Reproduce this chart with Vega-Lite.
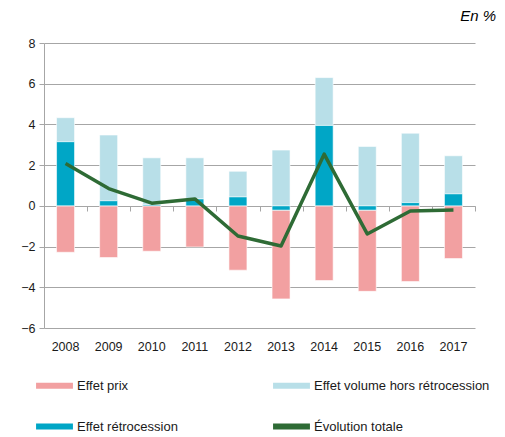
{
  "$schema": "https://vega.github.io/schema/vega-lite/v6.json",
  "width": 431,
  "height": 285,
  "autosize": {"type": "none"},
  "padding": {"left": 44, "top": 43, "right": 30, "bottom": 109},
  "background": "white",
  "config": {
    "font": "Liberation Sans",
    "view": {"stroke": null}
  },
  "title": {"text": "En %", "anchor": "end", "fontStyle": "italic", "fontWeight": "normal", "fontSize": 15, "font": "Liberation Sans", "color": "#000", "dx": 6, "offset": 13},
  "data": {"values": [
    {"annee": "2008", "serie": "Effet prix", "valeur": -2.28},
    {"annee": "2008", "serie": "Effet volume hors rétrocession", "valeur": 1.18},
    {"annee": "2008", "serie": "Effet rétrocession", "valeur": 3.15},
    {"annee": "2008", "serie": "Évolution totale", "valeur": 2.08},
    {"annee": "2009", "serie": "Effet prix", "valeur": -2.54},
    {"annee": "2009", "serie": "Effet volume hors rétrocession", "valeur": 3.23},
    {"annee": "2009", "serie": "Effet rétrocession", "valeur": 0.25},
    {"annee": "2009", "serie": "Évolution totale", "valeur": 0.85},
    {"annee": "2010", "serie": "Effet prix", "valeur": -2.23},
    {"annee": "2010", "serie": "Effet volume hors rétrocession", "valeur": 2.31},
    {"annee": "2010", "serie": "Effet rétrocession", "valeur": 0.05},
    {"annee": "2010", "serie": "Évolution totale", "valeur": 0.13},
    {"annee": "2011", "serie": "Effet prix", "valeur": -2.02},
    {"annee": "2011", "serie": "Effet volume hors rétrocession", "valeur": 2.02},
    {"annee": "2011", "serie": "Effet rétrocession", "valeur": 0.34},
    {"annee": "2011", "serie": "Évolution totale", "valeur": 0.34},
    {"annee": "2012", "serie": "Effet prix", "valeur": -3.16},
    {"annee": "2012", "serie": "Effet volume hors rétrocession", "valeur": 1.26},
    {"annee": "2012", "serie": "Effet rétrocession", "valeur": 0.44},
    {"annee": "2012", "serie": "Évolution totale", "valeur": -1.48},
    {"annee": "2013", "serie": "Effet prix", "valeur": -4.36},
    {"annee": "2013", "serie": "Effet volume hors rétrocession", "valeur": 2.74},
    {"annee": "2013", "serie": "Effet rétrocession", "valeur": -0.21},
    {"annee": "2013", "serie": "Évolution totale", "valeur": -1.97},
    {"annee": "2014", "serie": "Effet prix", "valeur": -3.67},
    {"annee": "2014", "serie": "Effet volume hors rétrocession", "valeur": 2.35},
    {"annee": "2014", "serie": "Effet rétrocession", "valeur": 3.95},
    {"annee": "2014", "serie": "Évolution totale", "valeur": 2.54},
    {"annee": "2015", "serie": "Effet prix", "valeur": -3.99},
    {"annee": "2015", "serie": "Effet volume hors rétrocession", "valeur": 2.92},
    {"annee": "2015", "serie": "Effet rétrocession", "valeur": -0.21},
    {"annee": "2015", "serie": "Évolution totale", "valeur": -1.38},
    {"annee": "2016", "serie": "Effet prix", "valeur": -3.72},
    {"annee": "2016", "serie": "Effet volume hors rétrocession", "valeur": 3.41},
    {"annee": "2016", "serie": "Effet rétrocession", "valeur": 0.16},
    {"annee": "2016", "serie": "Évolution totale", "valeur": -0.25},
    {"annee": "2017", "serie": "Effet prix", "valeur": -2.59},
    {"annee": "2017", "serie": "Effet volume hors rétrocession", "valeur": 1.87},
    {"annee": "2017", "serie": "Effet rétrocession", "valeur": 0.59},
    {"annee": "2017", "serie": "Évolution totale", "valeur": -0.2}
  ]},
  "resolve": {"axis": {"x": "independent"}},
  "layer": [
    {
      "transform": [
        {"filter": "datum.serie !== 'Évolution totale'"},
        {"calculate": "datum.serie === 'Effet rétrocession' ? 0 : 1", "as": "rang"}
      ],
      "mark": {"type": "bar", "width": 18, "stroke": "white", "strokeWidth": 0.6},
      "encoding": {
        "x": {"field": "annee", "type": "nominal", "scale": {"paddingInner": 0, "paddingOuter": 0},
          "axis": {"title": null, "orient": "bottom", "domain": false, "ticks": false, "labelAngle": 0, "labelFontSize": 12.5, "labelColor": "#1a1a1a", "labelPadding": 12, "grid": false}},
        "y": {"field": "valeur", "type": "quantitative", "stack": "zero",
          "scale": {"domain": [-6, 8], "nice": false, "zero": false},
          "axis": {"title": null, "values": [-6, -4, -2, 0, 2, 4, 6, 8], "grid": true, "gridColor": "#a6a6a6", "gridWidth": 1, "domain": true, "domainColor": "#a6a6a6", "tickColor": "#a6a6a6", "tickSize": 5, "labelFontSize": 12.5, "labelColor": "#1a1a1a", "labelPadding": 4}},
        "color": {"field": "serie", "type": "nominal",
          "scale": {"domain": ["Effet prix", "Effet volume hors rétrocession", "Effet rétrocession", "Évolution totale"], "range": ["#f2a0a1", "#b8dfe8", "#00a6c6", "#2e6b35"]},
          "legend": {"title": null, "orient": "none", "legendX": -8, "legendY": 324, "direction": "horizontal", "columns": 2, "columnPadding": 95, "rowPadding": 15,
            "symbolType": "M-1,-0.16H1V0.16H-1Z", "symbolSize": 1360, "symbolStrokeWidth": 0,
            "labelFontSize": 13, "labelColor": "#1a1a1a", "labelOffset": 4, "labelLimit": 300,
            "encode": {"symbols": {"update": {"fill": {"scale": "color", "field": "value"}, "strokeWidth": {"value": 0}, "opacity": {"value": 1}}}}}},
        "order": {"field": "rang", "type": "quantitative"}
      }
    },
    {
      "transform": [{"filter": "datum.serie === 'Évolution totale'"}],
      "mark": {"type": "line", "strokeWidth": 3.5, "strokeJoin": "round"},
      "encoding": {
        "x": {"field": "annee", "type": "nominal",
          "axis": {"title": null, "orient": "bottom", "offset": -122, "labels": false, "domain": true, "domainColor": "#a6a6a6", "ticks": true, "tickBand": "extent", "tickColor": "#a6a6a6", "tickSize": 5, "grid": false}},
        "y": {"field": "valeur", "type": "quantitative"},
        "color": {"field": "serie", "type": "nominal"}
      }
    }
  ]
}
